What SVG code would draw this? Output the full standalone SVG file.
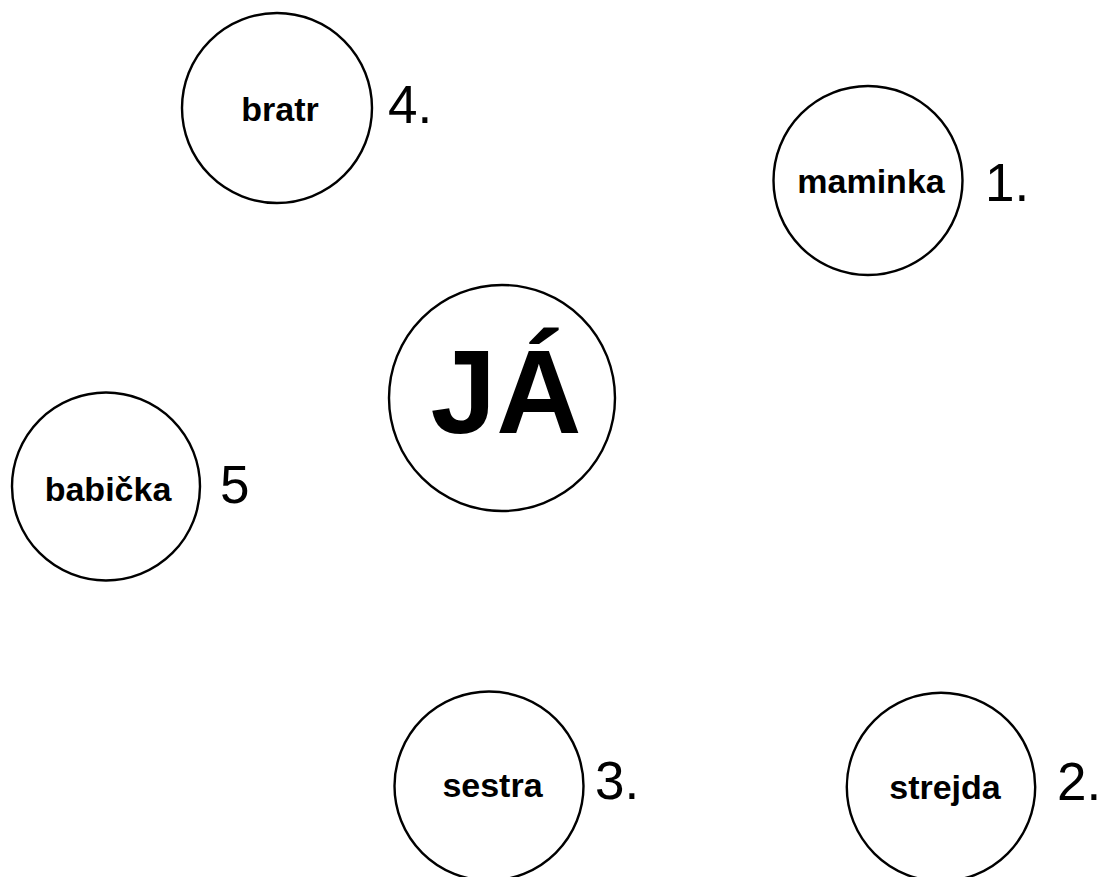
<svg xmlns="http://www.w3.org/2000/svg" width="1109" height="877" viewBox="0 0 1109 877">
<style>
.c{fill:#fff;stroke:#000;stroke-width:2.4}
.l{font-family:"Liberation Sans",Arial,sans-serif;font-weight:bold;font-size:34px;fill:#000;text-anchor:middle}
.n{font-family:"Liberation Sans",Arial,sans-serif;font-size:53px;fill:#000}
.big{font-family:"Liberation Sans",Arial,sans-serif;font-weight:bold;font-size:118px;fill:#000;text-anchor:middle}
</style>
<rect width="1109" height="877" fill="#fff"/>
<g id="connectors"></g>
<g id="bratr">
<circle class="c" cx="277" cy="108" r="95"/>
<text class="l" x="280" y="121">bratr</text>
<text class="n" x="388" y="123">4.</text>
</g>
<g id="maminka">
<circle class="c" cx="868" cy="180.5" r="94.5"/>
<text class="l" x="871" y="193">maminka</text>
<text class="n" x="985" y="201">1.</text>
</g>
<g id="ja">
<circle class="c" cx="502" cy="398" r="113"/>
<text class="big" x="506" y="433">JÁ</text>
</g>
<g id="babicka">
<circle class="c" cx="106" cy="486.5" r="94"/>
<text class="l" x="108" y="501">babička</text>
<text class="n" x="220" y="503">5</text>
</g>
<g id="sestra">
<circle class="c" cx="489" cy="786" r="94.5"/>
<text class="l" x="492.5" y="797">sestra</text>
<text class="n" x="595" y="799">3.</text>
</g>
<g id="strejda">
<circle class="c" cx="941" cy="787" r="94.2"/>
<text class="l" x="945" y="799">strejda</text>
<text class="n" x="1057" y="800">2.</text>
</g>
</svg>
